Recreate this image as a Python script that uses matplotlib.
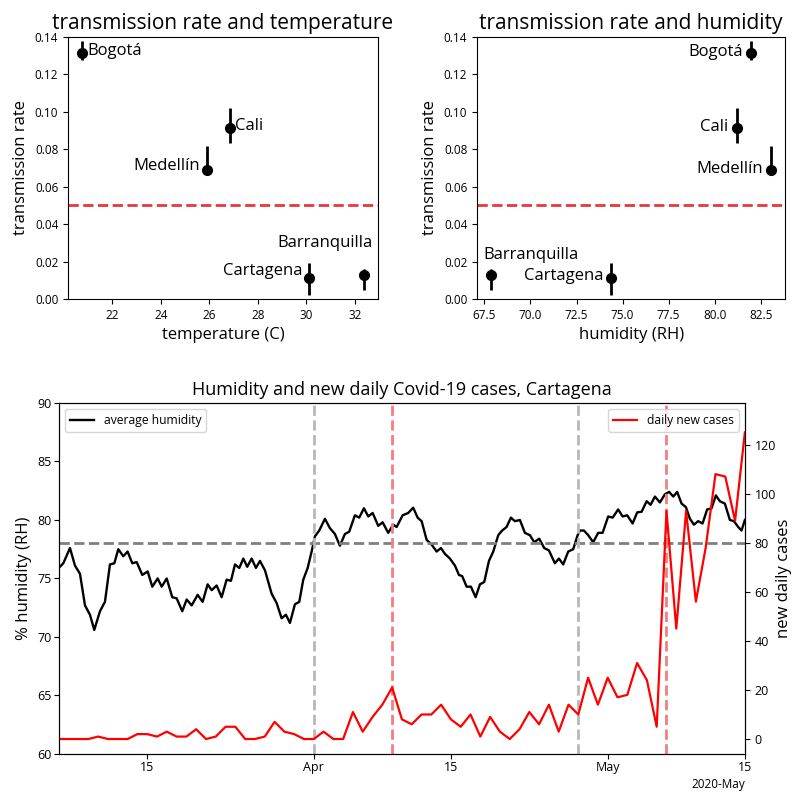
import matplotlib
matplotlib.use('Agg')
from matplotlib import pyplot as plt
import matplotlib.dates as mdates
import numpy as np
import pandas as pd

plt.rcParams['font.family'] = ['Open Sans', 'DejaVu Sans']

# ciudades: temperatura, humedad y tasa de transmision con su intervalo
cities = ['Bogotá', 'Cali', 'Medellín', 'Cartagena', 'Barranquilla']
temperature = [20.75, 26.84, 25.92, 30.12, 32.36]
humidity = [81.97, 81.2, 83.06, 74.39, 67.86]
rate = [0.1317, 0.0911, 0.0689, 0.011, 0.0128]
rate_lo = [0.1276, 0.0832, 0.0663, 0.002, 0.0046]
rate_hi = [0.1379, 0.1022, 0.0819, 0.0192, 0.016]
threshold = 0.05

# serie de humedad (dias desde el 6 de marzo) y casos diarios
start = pd.Timestamp('2020-03-06')
hum_days = [0.1, 0.44, 1.12, 1.63, 2.14, 2.65, 3.16, 3.6, 4.18, 4.69, 5.2, 5.65,
            6.05, 6.56, 7.0, 7.48, 7.93, 8.5, 9.05, 9.52, 10.07, 10.48, 10.99,
            11.56, 12.01, 12.58, 13.03, 13.54, 14.15, 14.66, 15.17, 15.58, 16.09,
            16.6, 17.11, 17.55, 17.96, 18.4, 18.81, 19.21, 19.66, 20.1, 20.51,
            21.02, 21.7, 22.21, 22.72, 23.16, 23.57, 24.08, 24.52, 24.93, 25.38,
            25.78, 26.12, 26.56, 27.14, 27.65, 28.16, 28.67, 29.18, 29.62, 30.2,
            30.64, 31.12, 31.56, 32.01, 32.58, 33.03, 33.6, 34.11, 34.46, 35.07,
            35.64, 36.15, 36.6, 37.01, 37.52, 38.03, 38.54, 38.98, 39.39, 39.9,
            40.41, 40.82, 41.15, 41.6, 42.04, 42.52, 42.96, 43.4, 43.88, 44.32,
            44.83, 45.23, 45.68, 46.12, 46.53, 47.04, 47.55, 48.06, 48.5, 49.01,
            49.52, 50.0, 50.61, 51.02, 51.46, 51.97, 52.48, 52.93, 53.16, 53.57,
            54.01, 54.52, 55.03, 55.48, 56.05, 56.5, 57.07, 57.52, 57.99, 58.54,
            59.01, 59.46, 59.97, 60.38, 60.82, 61.33, 61.84, 62.28, 62.69, 63.09,
            63.54, 63.98, 64.39, 64.8, 65.23, 65.68, 66.15, 66.6, 67.04, 67.45,
            67.96, 68.47, 68.88, 69.32, 69.66, 70.0]
hum_values = [76.0, 76.3, 77.6, 76.1, 75.4, 72.7, 71.9, 70.6, 72.2, 73.0, 76.2, 76.3,
              77.5, 76.9, 77.3, 76.3, 76.4, 75.3, 75.6, 74.3, 75.0, 74.3, 75.0,
              73.4, 73.3, 72.2, 73.2, 72.7, 73.6, 73.0, 74.5, 74.0, 74.4,
              73.4, 74.9, 74.8, 76.2, 75.9, 76.7, 76.0, 76.7, 75.9, 76.5,
              75.7, 73.7, 72.9, 71.6, 71.9, 71.2, 72.8, 73.0, 74.9, 75.9,
              77.3, 78.6, 79.1, 80.1, 79.3, 78.8, 77.8, 78.8, 79.0, 80.4,
              80.2, 81.0, 80.3, 80.6, 79.5, 79.8, 78.9, 79.6, 79.4, 80.4,
              80.6, 81.05, 80.2, 79.9, 78.3, 77.9, 77.3, 77.6, 77.1, 76.7,
              76.1, 75.3, 75.2, 74.3, 74.3, 73.4, 74.5, 74.7, 76.5, 77.3,
              78.7, 79.1, 79.4, 80.2, 79.9, 80.0, 78.9, 78.7, 78.1, 78.4,
              77.6, 77.4, 76.3, 76.7, 76.2, 77.3, 77.5, 78.7, 79.1, 79.1,
              78.7, 78.1, 78.9, 78.9, 80.3, 80.2, 80.9, 80.3, 80.4, 79.7,
              80.65, 80.7, 81.6, 81.3, 82.0, 81.5, 82.2, 82.4, 82.0, 82.4,
              81.4, 81.1, 80.1, 79.6, 79.9, 79.7, 80.9, 81.0, 82.1, 81.6,
              81.4, 80.0, 79.9, 79.4, 79.1, 80.0]
new_cases = [0, 0, 0, 0, 1, 0, 0, 0, 2, 2, 1, 3, 1, 1, 4, 0, 1, 5, 5, 0,
             0, 1, 7, 3, 2, 0, 0, 3, 0, 0, 11, 3, 9, 14, 21, 8, 6, 10, 10, 14,
             8, 5, 10, 1, 9, 3, 0, 4, 11, 6, 14, 3, 14, 10, 25, 14, 25, 17, 18, 31,
             24, 5, 93, 45, 93, 56, 78, 108, 107, 89, 125]
humidity_ref = 78
gray_dates = ['2020-04-01', '2020-04-28']
red_dates = ['2020-04-09', '2020-05-07']

hum_time = start + pd.to_timedelta(hum_days, unit='D')
case_time = pd.date_range(start, periods=len(new_cases), freq='D')

fig = plt.figure(figsize=(7.92, 7.92), dpi=100)

# --- arriba: tasa vs temperatura y vs humedad ---
yerr = [np.array(rate) - np.array(rate_lo), np.array(rate_hi) - np.array(rate)]

ax_t = fig.add_axes([0.0859, 0.6225, 0.391, 0.3308])
ax_h = fig.add_axes([0.6023, 0.6225, 0.389, 0.3308])

for ax, xs in [(ax_t, temperature), (ax_h, humidity)]:
    ax.errorbar(xs, rate, yerr=yerr, fmt='o', color='black', ms=7, elinewidth=2)
    ax.axhline(threshold, color='#e8383b', ls='--', lw=2)
    ax.set_ylim(0, 0.14)
    ax.set_ylabel('transmission rate', fontsize=12)
    ax.tick_params(labelsize=8.5)

# posicion de cada etiqueta (puntos) y alineacion
offs_t = {'Bogotá': (4, -2, 'left'), 'Cali': (3.5, -1, 'left'),
          'Medellín': (-5.5, 0, 'right'), 'Cartagena': (-5, 2.5, 'right'),
          'Barranquilla': (6.5, 20.5, 'right')}
offs_h = {'Bogotá': (-6, -2.5, 'right'), 'Cali': (-6, -1.7, 'right'),
          'Medellín': (-5.5, -2, 'right'), 'Cartagena': (-5.3, -1, 'right'),
          'Barranquilla': (-5.8, 11.5, 'left')}

for name, x, y in zip(cities, temperature, rate):
    dx, dy, ha = offs_t[name]
    ax_t.annotate(name, (x, y), xytext=(dx, dy), textcoords='offset points',
                  ha=ha, va='baseline', fontsize=12)
for name, x, y in zip(cities, humidity, rate):
    dx, dy, ha = offs_h[name]
    ax_h.annotate(name, (x, y), xytext=(dx, dy), textcoords='offset points',
                  ha=ha, va='baseline', fontsize=12)

ax_t.set_xticks([22, 24, 26, 28, 30, 32])
ax_t.set_xlabel('temperature (C)', fontsize=12)
ax_t.set_title('transmission rate and temperature', fontsize=15)
ax_h.set_xlabel('humidity (RH)', fontsize=12)
ax_h.set_title('transmission rate and humidity', fontsize=15)

# --- abajo: humedad y casos nuevos en Cartagena ---
ax1 = fig.add_axes([0.0745, 0.048, 0.866, 0.4432])
ax2 = ax1.twinx()

ax1.plot(hum_time, hum_values, color='black', lw=1.7, solid_joinstyle='round',
         label='average humidity')
ax1.axhline(humidity_ref, color='gray', ls='--', lw=2)
for d in gray_dates:
    ax1.axvline(pd.Timestamp(d), color='#b8b8b8', ls='--', lw=2)
for d in red_dates:
    ax1.axvline(pd.Timestamp(d), color='#f08080', ls='--', lw=2)
ax2.plot(case_time, new_cases, color='red', lw=1.6, label='daily new cases')

ax1.set_xlim(start, pd.Timestamp('2020-05-15'))
ax1.set_ylim(60, 90)
ax2.set_ylim(-6.1, 137)
ax2.set_yticks([0, 20, 40, 60, 80, 100, 120])

locator = mdates.DayLocator(bymonthday=[1, 15])
ax1.xaxis.set_major_locator(locator)
ax1.xaxis.set_major_formatter(mdates.ConciseDateFormatter(locator))

ax1.set_ylabel('% humidity (RH)', fontsize=12)
ax2.set_ylabel('new daily cases', fontsize=12, labelpad=0)
ax1.set_title('Humidity and new daily Covid-19 cases, Cartagena', fontsize=13)
ax1.tick_params(labelsize=9, pad=1.5)
ax1.xaxis.get_offset_text().set_fontsize(8.5)
ax2.tick_params(labelsize=9)
ax1.legend(loc='upper left', fontsize=8.7)
ax2.legend(loc='upper right', fontsize=8.7)

fig.savefig('out.png', dpi=100)
